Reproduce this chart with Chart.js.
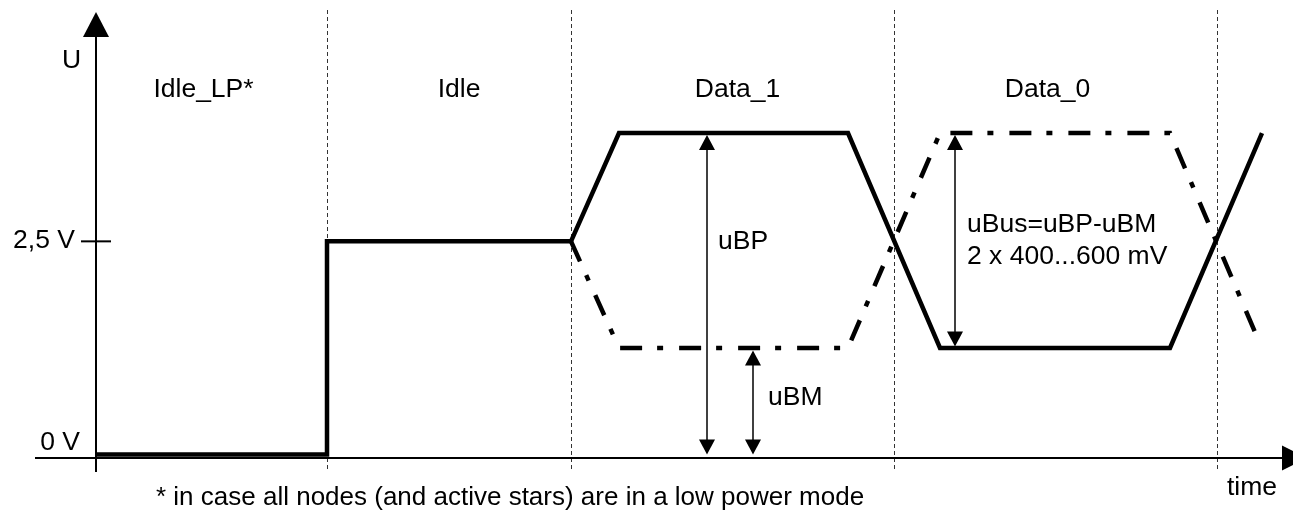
<!DOCTYPE html>
<html><head><meta charset="utf-8">
<script src="https://cdn.jsdelivr.net/npm/chart.js@4"></script>
<style>html,body{margin:0;padding:0;background:#fff}canvas{display:block}</style>
</head><body>
<canvas id="c" width="1293" height="513"></canvas>
<script>
// time in arbitrary units, voltage in V
const tBP = [0, 231, 231, 475, 523, 752, 844, 1074, 1166];
const vBP = [0, 0, 2.5, 2.5, 3.77, 3.77, 1.25, 1.25, 3.77];
const tBM = [475, 523, 752, 844, 1074, 1161];
const vBM = [2.5, 1.25, 1.25, 3.77, 3.77, 1.38];
const regionNames = ['Idle_LP*', 'Idle', 'Data_1', 'Data_0'];
const regionEdges = [0, 231, 475, 798, 1121];
const yTicks = [0, 2.5];
const yTickLabels = ['0 V', '2,5 V'];
const footnote = '* in case all nodes (and active stars) are in a low power mode';

const FONT = '26.5px "Liberation Sans", Arial, sans-serif';
const FONT_NOTE = '26px "Liberation Sans", Arial, sans-serif';
const labelShift = [-8, 10, 5, -8];

function pts(t, v){ return t.map((x,i)=>({x:x, y:v[i]})); }
function arrowHead(c, x, y, dir){ // dir -1 = pointing up, 1 = pointing down
  c.beginPath(); c.moveTo(x, y); c.lineTo(x-8, y-dir*15); c.lineTo(x+8, y-dir*15); c.closePath(); c.fill();
}
function measure(c, x, yTop, yBot){
  c.lineWidth=1.5; c.beginPath(); c.moveTo(x, yTop+10); c.lineTo(x, yBot-10); c.stroke();
  arrowHead(c, x, yTop, -1); arrowHead(c, x, yBot, 1);
}

const deco = {
  id:'deco',
  beforeDatasetsDraw(ch){
    const c=ch.ctx, xs=ch.scales.x, ys=ch.scales.y;
    const ax=xs.getPixelForValue(0), y0=ys.getPixelForValue(0), axY=y0+3.5;
    c.save();
    c.strokeStyle='#333'; c.lineWidth=1; c.setLineDash([4,3]);
    regionEdges.slice(1).forEach(t=>{
      const px=Math.round(xs.getPixelForValue(t))+0.5;
      c.beginPath(); c.moveTo(px,10); c.lineTo(px,472); c.stroke();
    });
    c.setLineDash([]);
    c.strokeStyle='#000'; c.fillStyle='#000'; c.lineWidth=2;
    c.beginPath(); c.moveTo(35,axY); c.lineTo(1283,axY); c.stroke();
    c.beginPath(); c.moveTo(ax,472); c.lineTo(ax,36); c.stroke();
    c.beginPath(); c.moveTo(ax,12); c.lineTo(ax-13,37); c.lineTo(ax+13,37); c.closePath(); c.fill();
    c.beginPath(); c.moveTo(1307,axY); c.lineTo(1282,axY-12.5); c.lineTo(1282,axY+12.5); c.closePath(); c.fill();
    c.font=FONT; c.textAlign='right'; c.textBaseline='alphabetic';
    yTicks.forEach((v,i)=>{
      const py=ys.getPixelForValue(v);
      if(v===0){ c.fillText(yTickLabels[i], ax-16, py-4.5); return; }
      c.beginPath(); c.moveTo(ax-15,py); c.lineTo(ax+15,py); c.stroke();
      c.fillText(yTickLabels[i], ax-21, py+6.5);
    });
    c.restore();
  },
  afterDatasetsDraw(ch){
    const c=ch.ctx, xs=ch.scales.x, ys=ch.scales.y;
    const ax=xs.getPixelForValue(0);
    const hi=ys.getPixelForValue(3.77), lo=ys.getPixelForValue(1.25), z=ys.getPixelForValue(0);
    c.save();
    c.strokeStyle='#000'; c.fillStyle='#000';
    const xBP=xs.getPixelForValue(611), xBM=xs.getPixelForValue(657), xBus=xs.getPixelForValue(859);
    measure(c, xBP, hi+2, z);
    measure(c, xBM, lo+2.5, z);
    measure(c, xBus, hi+2, lo-1.5);
    c.font=FONT; c.textAlign='left'; c.textBaseline='alphabetic';
    c.fillText('uBP', xBP+11, 249);
    c.fillText('uBM', xBM+15, 405);
    c.fillText('uBus=uBP-uBM', xBus+12, 232);
    c.fillText('2 x 400...600 mV', xBus+12, 264);
    c.fillText('U', ax-34, 68);
    c.fillText('time', 1227, 495);
    c.font=FONT_NOTE;
    c.fillText(footnote, 156, 505);
    c.font=FONT; c.textAlign='center';
    regionNames.forEach((n,i)=>{
      const mid=(regionEdges[i]+regionEdges[i+1])/2;
      c.fillText(n, xs.getPixelForValue(mid)+labelShift[i], 97);
    });
    c.restore();
  }
};

new Chart(document.getElementById('c'), {
  type:'line',
  data:{datasets:[
    {label:'uBP', data:pts(tBP,vBP), borderColor:'#000', borderWidth:4.5, pointRadius:0, tension:0,
     borderCapStyle:'butt', borderJoinStyle:'miter', fill:false, clip:false},
    {label:'uBM', data:pts(tBM,vBM), borderColor:'#000', borderWidth:4.5, pointRadius:0, tension:0,
     borderDash:[22,15,6,16], borderCapStyle:'butt', borderJoinStyle:'miter', fill:false, clip:false}
  ]},
  options:{
    responsive:false, devicePixelRatio:1, animation:false,
    layout:{padding:{left:96, right:13, top:12, bottom:58.5}},
    plugins:{legend:{display:false}, tooltip:{enabled:false}},
    scales:{
      x:{type:'linear', min:0, max:1184, display:false},
      y:{type:'linear', min:0, max:5.19, display:false}
    }
  },
  plugins:[deco]
});
</script>
</body></html>
